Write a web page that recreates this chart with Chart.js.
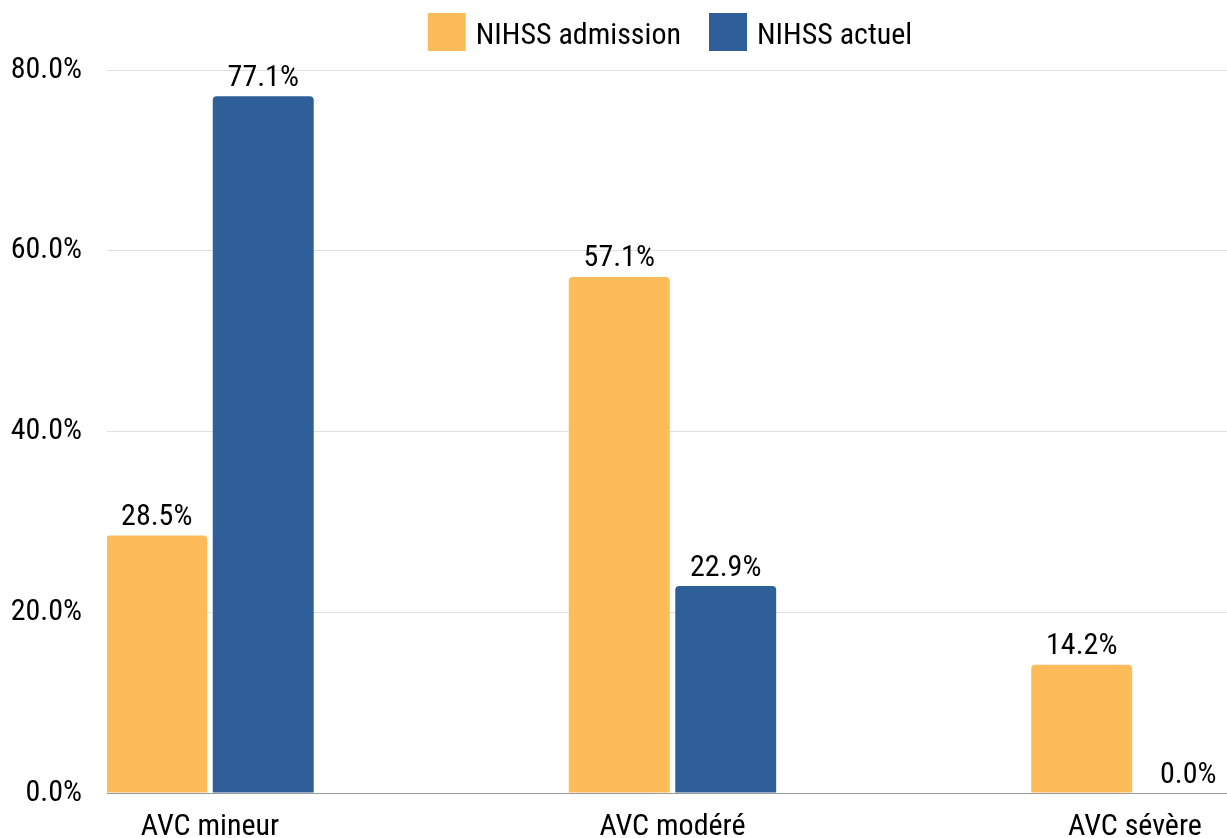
<!DOCTYPE html>
<html>
<head>
<meta charset="utf-8">
<script src="https://cdn.jsdelivr.net/npm/chart.js@4"></script>
<style>
  html, body { margin: 0; padding: 0; background: #fff; overflow: hidden; }
  #wrap { position: relative; width: 1227px; height: 838px; }
</style>
</head>
<body>
<div id="wrap"><canvas id="c"></canvas></div>
<script>
// Stroke severity groups (NIHSS), share of patients in %
const categories = ['AVC mineur', 'AVC modéré', 'AVC sévère'];
const seriesNames = ['NIHSS admission', 'NIHSS actuel'];
const admission = [28.5, 57.1, 14.2];
const actuel = [77.1, 22.9, 0.0];
const yTicks = [0, 20, 40, 60, 80];

const colors = ['#FDBB59', '#2E5F98'];
const FONT = '"Roboto Condensed", Roboto, sans-serif';
const fontSpec = { family: FONT, size: 30 };

// Percent label above each bar
const valueLabels = {
  id: 'valueLabels',
  afterDatasetsDraw(chart) {
    const ctx = chart.ctx;
    ctx.save();
    ctx.font = `30px ${FONT}`;
    ctx.fillStyle = '#000';
    ctx.textAlign = 'center';
    ctx.textBaseline = 'alphabetic';
    chart.data.datasets.forEach((ds, di) => {
      const meta = chart.getDatasetMeta(di);
      meta.data.forEach((bar, i) => {
        const v = ds.data[i].y;
        ctx.fillText(v.toFixed(1) + '%', bar.x, bar.y - 10.5);
      });
    });
    ctx.restore();
  }
};

// Legend row centred above the plot area
const topLegend = {
  id: 'topLegend',
  afterDraw(chart) {
    const ctx = chart.ctx;
    const boxW = 38, boxH = 38, gapText = 10, gapItem = 28, top = 13;
    ctx.save();
    ctx.font = `30px ${FONT}`;
    const widths = chart.data.datasets.map(d => ctx.measureText(d.label).width);
    const total = widths.reduce((s, w) => s + boxW + gapText + w, 0) + gapItem * (widths.length - 1);
    const center = (chart.chartArea.left + chart.chartArea.right) / 2 + 3;
    let x = center - total / 2;
    chart.data.datasets.forEach((d, i) => {
      ctx.fillStyle = d.backgroundColor;
      ctx.fillRect(x, top, boxW, boxH);
      ctx.fillStyle = '#000';
      ctx.textAlign = 'left';
      ctx.textBaseline = 'alphabetic';
      ctx.fillText(d.label, x + boxW + gapText, 44);
      x += boxW + gapText + widths[i] + gapItem;
    });
    ctx.restore();
  }
};

const barStyle = {
  borderRadius: 4,
  borderSkipped: 'start',
  categoryPercentage: 0.4605,
  barPercentage: 0.948
};

new Chart(document.getElementById('c'), {
  type: 'bar',
  data: {
    datasets: [
      Object.assign({ label: seriesNames[0], backgroundColor: colors[0],
        data: admission.map((y, i) => ({ x: i, y })) }, barStyle),
      Object.assign({ label: seriesNames[1], backgroundColor: colors[1],
        data: actuel.map((y, i) => ({ x: i, y })) }, barStyle)
    ]
  },
  options: {
    responsive: true,
    maintainAspectRatio: false,
    animation: false,
    devicePixelRatio: 1,
    layout: { padding: { top: 70, right: 0, bottom: 0, left: 0 } },
    plugins: {
      legend: { display: false },
      tooltip: { enabled: false }
    },
    scales: {
      x: {
        type: 'linear',
        offset: false,
        min: -0.2227,
        max: 2.199,
        grid: { display: false, offset: false },
        border: { display: true, color: '#9a9a9a', width: 1 },
        afterBuildTicks: s => { s.ticks = categories.map((_, i) => ({ value: i })); },
        afterFit: s => { s.height = 45; },
        ticks: {
          font: fontSpec,
          color: '#000',
          padding: 8,
          maxRotation: 0,
          autoSkip: false,
          callback: v => categories[v] !== undefined ? categories[v] : ''
        }
      },
      y: {
        min: 0,
        max: 80,
        grid: { color: '#e0e0e0', drawTicks: false },
        border: { display: false },
        afterBuildTicks: s => { s.ticks = yTicks.map(v => ({ value: v })); },
        afterFit: s => { s.width = 107; },
        ticks: {
          font: fontSpec,
          color: '#000',
          padding: 25,
          callback: v => v.toFixed(1) + '%'
        }
      }
    }
  },
  plugins: [valueLabels, topLegend]
});
</script>
</body>
</html>
